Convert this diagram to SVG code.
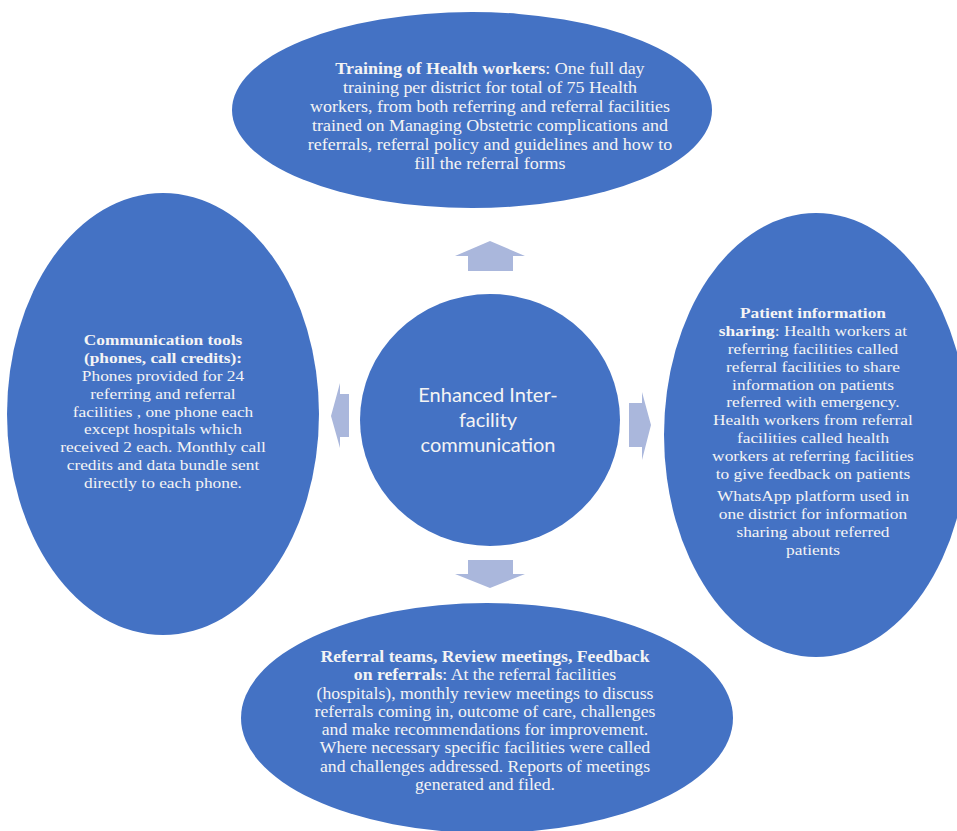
<svg xmlns="http://www.w3.org/2000/svg" width="957" height="831" viewBox="0 0 957 831">
<style>
.node{fill:#4472C4}
.t{font-family:"Liberation Serif","Times New Roman",serif;fill:#F4F4F4;text-anchor:middle}
.b{font-weight:bold}
.c{font-family:Lato,"Open Sans","Liberation Sans",sans-serif;font-size:20px;fill:#F4F4F4;text-anchor:middle}
.arrow{fill:#AAB7DC}
</style>
<rect width="957" height="831" fill="#FFFFFF"/>
<g id="connectors">
<polygon class="arrow" points="490,241 525,256 513,256 513,271 468,271 468,256 455,256"/>
<polygon class="arrow" points="490,588 525,574 513,574 513,560 468,560 468,574 455,574"/>
<polygon class="arrow" points="331,416 340,383 340,394 349,394 349,437 340,437 340,448"/>
<polygon class="arrow" points="651,425 642,392 642,403 629,403 629,447 642,447 642,460"/>
</g>
<g id="center">
<ellipse class="node" cx="490" cy="420" rx="130" ry="126"/>
<text class="c" x="488" y="402">Enhanced Inter-</text>
<text class="c" x="488" y="427">facility</text>
<text class="c" x="488" y="452">communication</text>
</g>
<g id="training">
<ellipse class="node" cx="472" cy="110" rx="240" ry="98"/>
<g class="t" font-size="16.5" transform="matrix(1.09,0,0,1,-44.1,0)">
<text x="490" y="74"><tspan class="b">Training of Health workers</tspan>: One full day</text>
<text x="490" y="93">training per district  for total of  75 Health</text>
<text x="490" y="112">workers, from both referring and referral facilities</text>
<text x="490" y="131">trained  on Managing Obstetric complications and</text>
<text x="490" y="150">referrals, referral policy and guidelines and how to</text>
<text x="490" y="169">fill the referral forms</text>
</g>
</g>
<g id="communication-tools">
<ellipse class="node" cx="163" cy="414" rx="156" ry="221"/>
<g class="t" font-size="15.5" transform="matrix(1.12,0,0,1,-19.56,0)">
<text class="b" x="163" y="345">Communication tools</text>
<text class="b" x="163" y="362.9">(phones, call credits):</text>
<text x="163" y="380.8">Phones provided for 24</text>
<text x="163" y="398.7">referring and referral</text>
<text x="163" y="416.6">facilities , one phone  each</text>
<text x="163" y="434.5">except hospitals which</text>
<text x="163" y="452.4">received 2 each. Monthly call</text>
<text x="163" y="470.3">credits and data bundle sent</text>
<text x="163" y="488.2">directly to each phone.</text>
</g>
</g>
<g id="patient-information">
<ellipse class="node" cx="816" cy="435" rx="152" ry="222"/>
<g class="t" font-size="15.5" transform="matrix(1.12,0,0,1,-97.56,0)">
<text class="b" x="813" y="318">Patient information</text>
<text x="813" y="335.9"><tspan class="b">sharing</tspan>: Health workers at</text>
<text x="813" y="353.8">referring facilities called</text>
<text x="813" y="371.7">referral facilities to share</text>
<text x="813" y="389.6">information on patients</text>
<text x="813" y="407.5">referred with emergency.</text>
<text x="813" y="425.4">Health workers from referral</text>
<text x="813" y="443.3">facilities called health</text>
<text x="813" y="461.2">workers at referring facilities</text>
<text x="813" y="479.1">to give feedback on patients</text>
<text x="813" y="501">WhatsApp platform used in</text>
<text x="813" y="518.9">one district  for information</text>
<text x="813" y="536.8">sharing about referred</text>
<text x="813" y="554.7">patients</text>
</g>
</g>
<g id="referral-teams">
<ellipse class="node" cx="487" cy="718" rx="246" ry="115"/>
<g class="t" font-size="15.8" transform="matrix(1.12,0,0,1,-58.2,0)">
<text class="b" x="485" y="662">Referral teams, Review meetings, Feedback</text>
<text x="485" y="680.3"><tspan class="b">on referrals</tspan>:  At the referral facilities</text>
<text x="485" y="698.6">(hospitals), monthly review meetings to discuss</text>
<text x="485" y="716.9">referrals coming in, outcome of care, challenges</text>
<text x="485" y="735.2">and make recommendations for improvement.</text>
<text x="485" y="753.5">Where necessary specific facilities were called</text>
<text x="485" y="771.8">and challenges addressed. Reports of meetings</text>
<text x="485" y="790.1">generated and filed.</text>
</g>
</g>
</svg>
